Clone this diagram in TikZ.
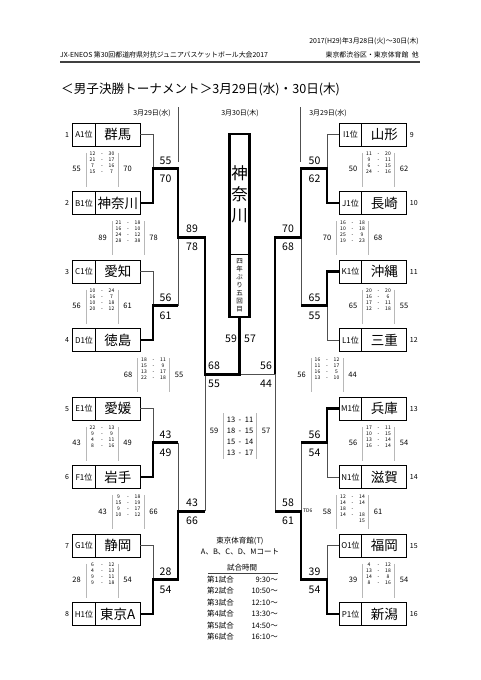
\documentclass[tikz,border=0pt]{standalone}
\usepackage{fontspec}
\setmainfont{Noto Sans CJK JP}
\usetikzlibrary{positioning}
\definecolor{linec}{HTML}{505050}
\definecolor{barc}{HTML}{B8B8B8}
\definecolor{rulec}{HTML}{404040}

% score block: name, x, y, left total, right total, quarter scores
\newcommand{\qblock}[6]{%
  \node[tot] (#1l) at (#2-25.5,#3) {#4};
  \node[tot] (#1r) at (#2+25.5,#3) {#5};
  \draw[bar] (#2-16,#3-16) -- (#2-16,#3+18);
  \draw[bar] (#2+16,#3-16) -- (#2+16,#3+18);
  \foreach \a/\b [count=\k] in {#6} {
    \node[qs] (#1a\k) at (#2-9.5,#3-21+6*\k) {\a};
    \node[qs] (#1d\k) at (#2,#3-21+6*\k) {-};
    \node[qs] (#1b\k) at (#2+9.5,#3-21+6*\k) {\b};
  }}

\begin{document}
\begin{tikzpicture}[x=1pt, y=-1pt,
  seedbox/.style={draw, line width=0.8pt, minimum width=22.5pt, minimum height=23pt,
    inner sep=0pt, outer sep=0pt, font=\fontsize{8}{9}\selectfont},
  namebox/.style={draw, line width=0.8pt, minimum width=45pt, minimum height=23pt,
    inner sep=0pt, outer sep=0pt, font=\fontsize{13.5}{14}\selectfont,
    text height=11.9pt, text depth=1.6pt},
  seedno/.style={inner sep=0pt, font=\fontsize{7}{8}\selectfont, text height=6.2pt, text depth=0.8pt},
  sc/.style={inner sep=0pt, font=\fontsize{10.5}{11}\selectfont, text height=9.2pt, text depth=1.3pt},
  tot/.style={inner sep=0pt, font=\fontsize{7.5}{8}\selectfont, text height=6.6pt, text depth=0.9pt},
  qs/.style={inner sep=0pt, font=\fontsize{5}{6}\selectfont, text height=4.4pt, text depth=0.6pt},
  hdr/.style={inner sep=0pt, font=\fontsize{6.9}{7}\selectfont, text height=6.1pt, text depth=0.8pt},
  date/.style={inner sep=0pt, font=\fontsize{7}{8}\selectfont, text height=6.2pt, text depth=0.8pt},
  info/.style={inner sep=0pt, font=\fontsize{7.5}{8}\selectfont, text height=6.6pt, text depth=0.9pt},
  bar/.style={barc, line width=0.6pt},
  lose/.style={linec, line width=0.9pt},
  win/.style={black, line width=2.6pt, line join=miter},
  champbox/.style={draw, line width=0.8pt, minimum width=20pt, minimum height=120pt,
    inner sep=0pt, outer sep=0pt, align=center, font=\fontsize{16.5}{21}\selectfont},
  champsub/.style={draw, line width=0.8pt, minimum width=20pt, minimum height=63pt,
    inner sep=0pt, outer sep=0pt, align=center, font=\fontsize{6.5}{7.9}\selectfont}]

  \fill[white] (0,0) rectangle (481,680);

  % header
  \node[hdr, anchor=east] (hd1) at (419,41) {2017(H29)年3月28日(火)～30日(木)};
  \node[hdr, anchor=west] (hd2) at (60,55) {JX-ENEOS 第30回都道府県対抗ジュニアバスケットボール大会2017};
  \node[hdr, anchor=east] (hd3) at (419,55) {東京都渋谷区・東京体育館\enspace 他};
  \draw[rulec, line width=1.3pt] (60,62) -- (420,62);
  \node[anchor=west, inner sep=0pt, font=\fontsize{12.6}{13}\selectfont,
    text height=11.1pt, text depth=1.5pt] (title) at (61,88.5)
    {＜男子決勝トーナメント＞3月29日(水)・30日(木)};

  % days
  \node[date] (d1) at (152,113) {3月29日(水)};
  \node[date] (d2) at (240,113) {3月30日(木)};
  \node[date] (d3) at (328,113) {3月29日(水)};
  \draw[lose] (178,107) -- (178,162);
  \draw[lose] (300,107) -- (300,162);

  % teams, left half
  \foreach \i/\s/\n [count=\k from 0] in {1/A1位/群馬, 2/B1位/神奈川, 3/C1位/愛知, 4/D1位/徳島,
      5/E1位/愛媛, 6/F1位/岩手, 7/G1位/静岡, 8/H1位/東京A} {
    \node[seedbox] (s\i) at (84,134.5+68.5*\k) {\s};
    \node[namebox, right=0pt of s\i] (n\i) {\n};
    \node[seedno, left=3.5pt of s\i] (k\i) {\i};
  }
  % teams, right half
  \foreach \i/\s/\n [count=\k from 0] in {9/I1位/山形, 10/J1位/長崎, 11/K1位/沖縄, 12/L1位/三重,
      13/M1位/兵庫, 14/N1位/滋賀, 15/O1位/福岡, 16/P1位/新潟} {
    \node[seedbox] (s\i) at (350.5,134.5+68.5*\k) {\s};
    \node[namebox, right=0pt of s\i] (n\i) {\n};
    \node[seedno, right=3pt of n\i] (k\i) {\i};
  }

  % champion
  \node[champbox] (champ) at (239.5,194) {神\\奈\\川};
  \node[champsub, below=0pt of champ] (champsub) {四\\年\\ぶ\\り\\五\\回\\目};
  \draw[black, line width=2.2pt] (champ.north west) rectangle (champsub.south east);

  % joints
  \coordinate (L1) at (153,168.75);
  \coordinate (L2) at (153,305.75);
  \coordinate (L3) at (153,442.75);
  \coordinate (L4) at (153,579.75);
  \coordinate (LA) at (178,237.25);
  \coordinate (LB) at (178,511.25);
  \coordinate (LS) at (205,374.25);
  \coordinate (R1) at (327,168.75);
  \coordinate (R2) at (327,305.75);
  \coordinate (R3) at (327,442.75);
  \coordinate (R4) at (327,579.75);
  \coordinate (RA) at (301,237.25);
  \coordinate (RB) at (301,511.25);
  \coordinate (RS) at (275,374.25);
  \coordinate (F) at (239.5,374.25);

  % losing lines
  \draw[lose] (n1.east) -| (L1);
  \draw[lose] (n3.east) -| (L2);
  \draw[lose] (n5.east) -| (L3);
  \draw[lose] (n7.east) -| (L4);
  \draw[lose] (L2 -| LA) -- (LA);
  \draw[lose] (L3 -| LB) -- (LB);
  \draw[lose] (LB -| LS) -- (LS);
  \draw[lose] (s9.west) -| (R1);
  \draw[lose] (s12.west) -| (R2);
  \draw[lose] (s14.west) -| (R3);
  \draw[lose] (s15.west) -| (R4);
  \draw[lose] (R2 -| RA) -- (RA);
  \draw[lose] (R3 -| RB) -- (RB);
  \draw[lose] (RB -| RS) -- (RS);
  \draw[lose] (RS) -- (F);

  % winning lines
  \draw[win] (n2.east) -| (L1) -| (LA) -| (LS) -| (champsub.south);
  \draw[win] (n4.east) -| (L2) -- (L2 -| LA);
  \draw[win] (n6.east) -| (L3) -- (L3 -| LB);
  \draw[win] (n8.east) -| (L4) -| (LB) -- (LB -| LS);
  \draw[win] (s10.west) -| (R1) -| (RA) -| (RS);
  \draw[win] (s11.west) -| (R2) -- (R2 -| RA);
  \draw[win] (s13.west) -| (R3) -- (R3 -| RB);
  \draw[win] (s16.west) -| (R4) -| (RB) -- (RB -| RS);

  % scores at the joints
  \foreach \p/\x/\u/\v in {L1/165.5/55/70, L2/165.5/56/61, L3/165.5/43/49, L4/165.5/28/54,
      LA/192/89/78, LB/192/43/66, LS/214/68/55,
      R1/314.5/50/62, R2/314.5/65/55, R3/314.5/56/54, R4/314.5/39/54,
      RA/288/70/68, RB/288/58/61, RS/266/56/44} {
    \node[sc] (\p u) at ([yshift=8.5pt] \p -| \x,0) {\u};
    \node[sc] (\p v) at ([yshift=-9.5pt] \p -| \x,0) {\v};
  }
  \node[sc] (f1) at (231,339) {59};
  \node[sc] (f2) at (250,339) {57};
  \node[qs, anchor=west] (td) at (303,510.5) {TD6};

  % quarter scores
  \qblock{b1}{102}{168.75}{55}{70}{12/30, 21/17, 7/16, 15/7}
  \qblock{b2}{128}{237.25}{89}{78}{21/18, 16/10, 24/12, 28/38}
  \qblock{b3}{102}{305.75}{56}{61}{10/24, 16/7, 10/18, 20/12}
  \qblock{b4}{153.5}{374.25}{68}{55}{18/11, 15/9, 13/17, 22/18}
  \qblock{b5}{102}{442.75}{43}{49}{22/13, 9/9, 4/11, 8/16}
  \qblock{b6}{128}{511.25}{43}{66}{9/18, 15/19, 9/17, 10/12}
  \qblock{b7}{102}{579.75}{28}{54}{6/12, 4/13, 9/11, 9/18}
  \qblock{c1}{378.5}{168.75}{50}{62}{11/20, 9/11, 6/15, 24/16}
  \qblock{c2}{352.5}{237.25}{70}{68}{16/18, 10/18, 25/9, 19/23}
  \qblock{c3}{378.5}{305.75}{65}{55}{20/20, 16/6, 17/11, 12/18}
  \qblock{c4}{327}{374.25}{56}{44}{16/12, 11/17, 16/5, 13/10}
  \qblock{c5}{378.5}{442.75}{56}{54}{17/11, 10/15, 13/14, 16/14}
  \qblock{c6}{352.5}{511.25}{58}{61}{12/14, 14/14, 18/{}, 14/18}
  \qblock{c7}{378.5}{579.75}{39}{54}{4/12, 13/18, 14/8, 8/16}
  \node[qs] (c6b5) at (362,520.25) {15};

  % final
  \node[info] (fl) at (214,431) {59};
  \node[info] (fr) at (266,431) {57};
  \draw[bar] (223,413) -- (223,459);
  \draw[bar] (256,413) -- (256,459);
  \foreach \a/\b [count=\k from 0] in {13/11, 18/15, 15/14, 13/17} {
    \node[info] (fa\k) at (231,420+11*\k) {\a};
    \node[info] (fd\k) at (240,420+11*\k) {-};
    \node[info] (fb\k) at (249,420+11*\k) {\b};
  }

  % venue and times
  \node[info] (venue) at (240,541) {東京体育館(T)};
  \node[info] (courts) at (240,552) {A、B、C、D、Mコート};
  \node[info] (timehd) at (242,567.5) {試合時間};
  \draw[rulec, line width=0.8pt] (208,573.5) -- (278,573.5);
  \foreach \g/\t [count=\k from 0] in {1/9:30～, 2/10:50～, 3/12:10～, 4/13:30～, 5/14:50～, 6/16:10～} {
    \node[info, anchor=west] (g\g) at (207,579.5+11.5*\k) {第\g 試合};
    \node[info, anchor=east] (t\g) at (278,579.5+11.5*\k) {\t};
  }
\end{tikzpicture}
\end{document}
